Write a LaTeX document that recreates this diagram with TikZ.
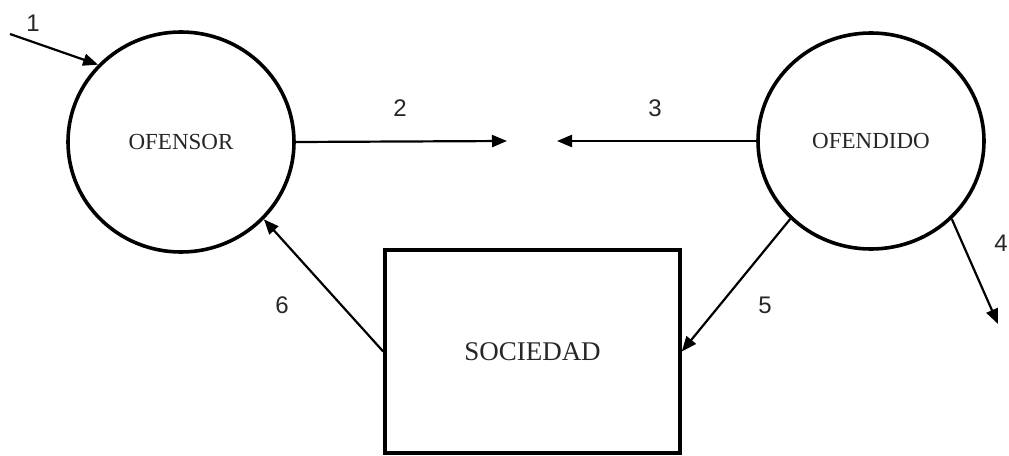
\documentclass[tikz,border=0pt]{standalone}
\usepackage{fontspec}
\setmainfont{Liberation Serif}
\newfontfamily\labfont{Liberation Sans}
\usetikzlibrary{arrows.meta,shapes.geometric}
\begin{document}
\begin{tikzpicture}[x=1pt,y=-1pt,
  actor/.style={draw,line width=3.6pt,ellipse,inner sep=0pt,font=\fontsize{23}{26}\selectfont,text=black!85},
  society/.style={draw,line width=3.6pt,rectangle,inner sep=0pt,minimum width=295pt,minimum height=203pt,font=\fontsize{27}{30}\selectfont,text=black!85},
  flow/.style={line width=2.2pt,-{Triangle[length=15pt,width=12pt]}},
  num/.style={font=\labfont\fontsize{24}{26}\selectfont,text=black!85}]
\useasboundingbox (0,0) rectangle (1009,455);
\node[actor,minimum width=226pt,minimum height=220pt] (ofensor) at (181,142) {OFENSOR};
\node[actor,minimum width=226pt,minimum height=216pt] (ofendido) at (871,141) {OFENDIDO};
\node[society] (soc) at (532.5,351.5) {SOCIEDAD};
\coordinate (in1) at (10,34);
\coordinate (mid2) at (507,141);
\coordinate (mid3) at (557,141);
\coordinate (out4) at (998,324);
\draw[flow] (in1) -- (ofensor.137);
\draw[flow] (ofensor.east) -- (mid2);
\draw[flow] (ofendido.west) -- (mid3);
\draw[flow] (ofendido.316) -- (out4);
\draw[flow] (ofendido.224) -- (soc.east);
\draw[flow] (soc.west) -- (ofensor.317);
\node[num] (l1) at (33,23) {1};
\node[num] (l2) at (400,108) {2};
\node[num] (l3) at (655,108) {3};
\node[num] (l4) at (1001,243) {4};
\node[num] (l5) at (765,305) {5};
\node[num] (l6) at (282,305) {6};
\end{tikzpicture}
\end{document}
